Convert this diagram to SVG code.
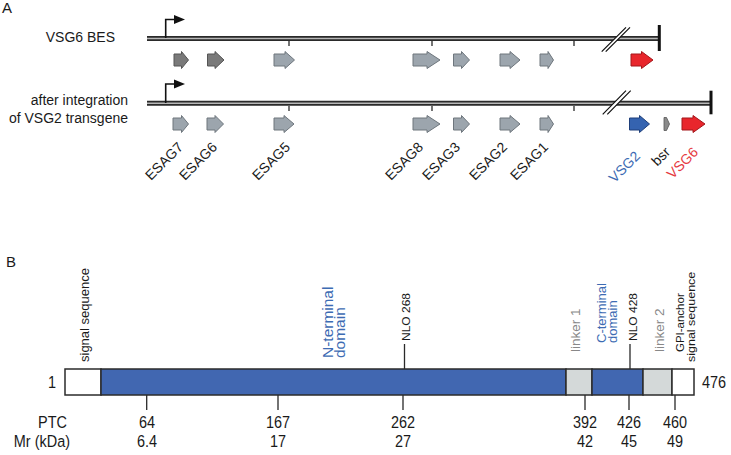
<svg xmlns="http://www.w3.org/2000/svg" width="731" height="455" viewBox="0 0 731 455">
<defs>
<style>
text{font-family:"Liberation Sans",Arial,Helvetica,sans-serif;fill:#1a1a1a}
.t14{font-size:14px}
.pl{font-size:15px}
.dl1{fill:none;stroke:#2a2a2a;stroke-width:5}
.dl2{fill:none;stroke:#b8b8b8;stroke-width:1.6}
.tick{stroke:#2a2a2a;stroke-width:1.3}
.prom{fill:none;stroke:#111;stroke-width:1.6}
.end{stroke:#111;stroke-width:3}
.brk{stroke:#111;stroke-width:1.2}
.gd{fill:#7a7a7a;stroke:#555;stroke-width:1}
.gl{fill:#9ca5ad;stroke:#6e767d;stroke-width:1}
.gr{fill:#e8262c;stroke:#a3161b;stroke-width:1}
.gb{fill:#3563b0;stroke:#1f3f7a;stroke-width:1}
.gs{fill:#8a8a8a;stroke:#555;stroke-width:0.8}
.box{stroke:#2b2b2b;stroke-width:1.5}
.w{fill:#fff}
.bl{fill:#4167b1}
.gy{fill:#d4d9d9}
.blue{fill:#3d6bb3}
.red{fill:#e53a3f}
.grey{fill:#888}
.bt{font-size:17px}
</style>
</defs>
<rect width="731" height="455" fill="#fff"/>
<text x="2" y="13" class="pl">A</text>
<text x="6" y="267" class="pl">B</text>

<g id="row1">
<text x="115" y="42" class="t14" text-anchor="end">VSG6 BES</text>
<path class="dl1" d="M147,38.5H659"/>
<path class="dl2" d="M147,38.5H659"/>
<polygon points="601.7,51.7 626,27.3 630,27.3 605.7,51.7" fill="#fff"/>
<path class="brk" d="M601.7,51.7L626,27.3M605.7,51.7L630,27.3"/>
<path class="end" d="M659.3,25V51"/>
<path class="tick" d="M289,41V46M432,41V46M574,41V46"/>
<path class="prom" d="M165.7,38V19.5H175"/>
<polygon points="174,15 185,19.5 174,24" fill="#111"/>
</g>
<g id="row2">
<text x="128" y="105" class="t14" text-anchor="end">after integration</text>
<text x="128" y="123" class="t14" text-anchor="end">of VSG2 transgene</text>
<path class="dl1" d="M147,103.3H711"/>
<path class="dl2" d="M147,103.3H711"/>
<polygon points="602.7,114.3 626,90.7 630.7,90.7 607.3,114.3" fill="#fff"/>
<path class="brk" d="M602.7,114.3L626,90.7M607.3,114.3L630.7,90.7"/>
<path class="end" d="M711,90.7V114.3"/>
<path class="tick" d="M289,106V111M432,106V111M574,106V111"/>
<path class="prom" d="M165.7,103V84H175"/>
<polygon points="174,79.5 185,84 174,88.5" fill="#111"/>
</g>

<g id="genes-row1">
<path class="gd" d="M174,54H181.5V51.5L188.5,60L181.5,68.5V66H174Z"/>
<path class="gd" d="M207.5,54H215V51.5L224,60L215,68.5V66H207.5Z"/>
<path class="gl" d="M274,54H285V51.5L294.5,60L285,68.5V66H274Z"/>
<path class="gl" d="M413,54H427V51.5L440,60L427,68.5V66H413Z"/>
<path class="gl" d="M453.5,54H461.5V51.5L469.5,60L461.5,68.5V66H453.5Z"/>
<path class="gl" d="M500,54H510V51.5L520,60L510,68.5V66H500Z"/>
<path class="gl" d="M540,54H548V51.5L553.5,60L548,68.5V66H540Z"/>
<path class="gr" d="M631,54H641.5V51.5L653,60L641.5,68.5V66H631Z"/>
</g>
<g id="genes-row2">
<path class="gl" d="M173,118H181.5V115.5L188.5,124L181.5,132.5V130H173Z"/>
<path class="gl" d="M207,118H215V115.5L223.5,124L215,132.5V130H207Z"/>
<path class="gl" d="M274,118H284V115.5L294,124L284,132.5V130H274Z"/>
<path class="gl" d="M413,118H427V115.5L440,124L427,132.5V130H413Z"/>
<path class="gl" d="M453.5,118H461.5V115.5L469.5,124L461.5,132.5V130H453.5Z"/>
<path class="gl" d="M500,118H510V115.5L520,124L510,132.5V130H500Z"/>
<path class="gl" d="M540,118H548V115.5L553.5,124L548,132.5V130H540Z"/>
<path class="gb" d="M629.5,118H639.5V115.5L649.5,124L639.5,132.5V130H629.5Z"/>
<path class="gs" d="M664,117.5H666.5L669.5,124L666.5,130.5H664Z"/>
<path class="gr" d="M682,118H693V115.5L705,124L693,132.5V130H682Z"/>
</g>

<g id="gene-labels">
<text class="t14" text-anchor="end" transform="translate(184,148) rotate(-45)">ESAG7</text>
<text class="t14" text-anchor="end" transform="translate(218,148) rotate(-45)">ESAG6</text>
<text class="t14" text-anchor="end" transform="translate(291,148) rotate(-45)">ESAG5</text>
<text class="t14" text-anchor="end" transform="translate(424,148) rotate(-45)">ESAG8</text>
<text class="t14" text-anchor="end" transform="translate(461,148) rotate(-45)">ESAG3</text>
<text class="t14" text-anchor="end" transform="translate(508,148) rotate(-45)">ESAG2</text>
<text class="t14" text-anchor="end" transform="translate(549,148) rotate(-45)">ESAG1</text>
<text class="t14 blue" text-anchor="end" transform="translate(641,157) rotate(-45)">VSG2</text>
<text class="t14" text-anchor="end" transform="translate(671,153) rotate(-45)">bsr</text>
<text class="t14 red" text-anchor="end" transform="translate(699,153) rotate(-45)">VSG6</text>
</g>

<g id="protein-bar">
<rect class="box w" x="65" y="369" width="36" height="26"/>
<rect class="box bl" x="101" y="369" width="465" height="26"/>
<rect class="box gy" x="566" y="369" width="26" height="26"/>
<rect class="box bl" x="592" y="369" width="51" height="26"/>
<rect class="box gy" x="643" y="369" width="29" height="26"/>
<rect class="box w" x="672" y="369" width="22" height="26"/>
<text class="bt" text-anchor="end" transform="translate(56,388) scale(0.85,1)">1</text>
<text class="bt" transform="translate(702,388) scale(0.85,1)">476</text>
</g>

<g id="domain-labels">
<text font-size="13" transform="translate(89,362) scale(0.92,1) rotate(-90)">signal sequence</text>
<text font-size="15.5" class="blue" transform="translate(333,358) scale(0.92,1) rotate(-90)">N-terminal</text>
<text font-size="15.5" class="blue" transform="translate(345,358) scale(0.92,1) rotate(-90)">domain</text>
<text font-size="12" transform="translate(410,341) scale(0.92,1) rotate(-90)">NLO 268</text>
<text font-size="13.5" class="grey" transform="translate(580,352) scale(0.92,1) rotate(-90)">linker 1</text>
<text font-size="13" class="blue" transform="translate(606,343) scale(0.92,1) rotate(-90)">C-terminal</text>
<text font-size="13" class="blue" transform="translate(617,343) scale(0.92,1) rotate(-90)">domain</text>
<text font-size="12" transform="translate(637,341) scale(0.92,1) rotate(-90)">NLO 428</text>
<text font-size="13.5" class="grey" transform="translate(664,352) scale(0.92,1) rotate(-90)">linker 2</text>
<text font-size="11.5" transform="translate(684,352) scale(0.92,1) rotate(-90)">GPI-anchor</text>
<text font-size="12.5" transform="translate(695,362) scale(0.92,1) rotate(-90)">signal sequence</text>
</g>

<g id="connectors">
<path class="tick" d="M404.5,344V369M630,344V369"/>
<path class="tick" d="M146.7,395V410M278,395V410M403,395V410M585,395V410M629,395V410M675,395V410"/>
</g>

<g id="scale-labels">
<text class="bt" text-anchor="end" transform="translate(67,428) scale(0.85,1)">PTC</text>
<text class="bt" text-anchor="end" transform="translate(70,447) scale(0.85,1)">Mr (kDa)</text>
<g class="bt" text-anchor="middle">
<text transform="translate(147,428) scale(0.85,1)">64</text>
<text transform="translate(278,428) scale(0.85,1)">167</text>
<text transform="translate(403,428) scale(0.85,1)">262</text>
<text transform="translate(585,428) scale(0.85,1)">392</text>
<text transform="translate(629,428) scale(0.85,1)">426</text>
<text transform="translate(675,428) scale(0.85,1)">460</text>
<text transform="translate(147,447) scale(0.85,1)">6.4</text>
<text transform="translate(278,447) scale(0.85,1)">17</text>
<text transform="translate(403,447) scale(0.85,1)">27</text>
<text transform="translate(585,447) scale(0.85,1)">42</text>
<text transform="translate(629,447) scale(0.85,1)">45</text>
<text transform="translate(675,447) scale(0.85,1)">49</text>
</g>
</g>
</svg>
